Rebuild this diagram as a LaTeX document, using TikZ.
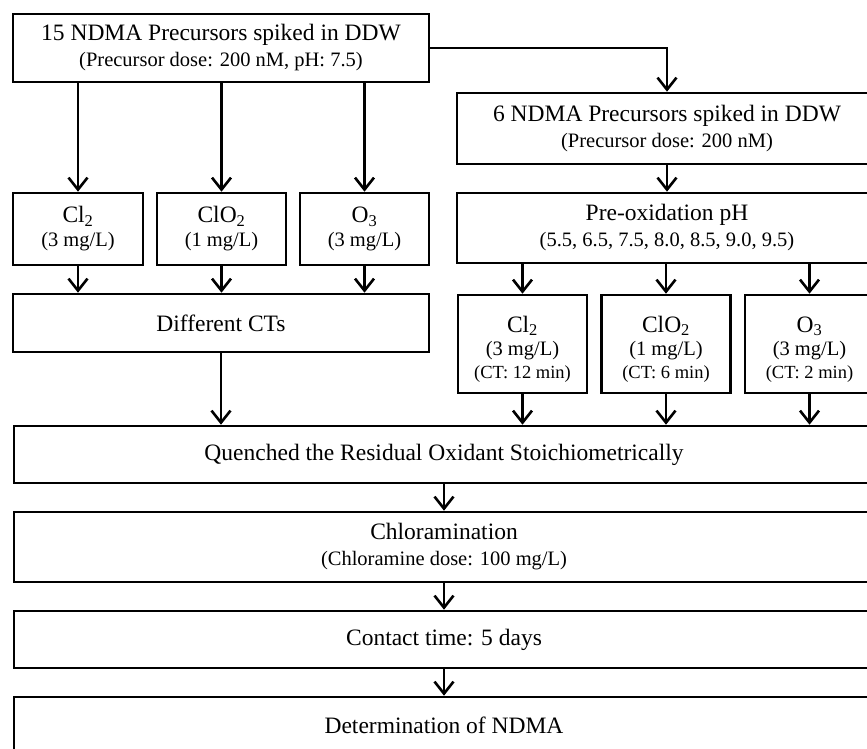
\documentclass[tikz,border=0pt]{standalone}
\usepackage{fontspec}
\setmainfont{Liberation Serif}
\usetikzlibrary{arrows.meta}
\newcommand{\bigtxt}{\fontsize{23.5}{26}\selectfont}
\newcommand{\midtxt}{\fontsize{20.5}{23}\selectfont}
\newcommand{\smalltxt}{\fontsize{18.5}{22}\selectfont}

\begin{document}
\begin{tikzpicture}[->,
				>={Straight Barb[length=12pt,width=19pt]},
				x=1pt, y=-1pt,
				line width=2.6pt,
				box/.style={draw, black, -, inner sep=0pt, align=center, font=\bigtxt}]
				\useasboundingbox (0,0) rectangle (867,748);
				\clip (0,0) rectangle (867,748);
				\node at (221,48) (a) [box, minimum width=416, minimum height=68] {15 NDMA Precursors spiked in DDW\\{\midtxt (Precursor dose: 200 nM, pH: 7.5)}};
				\node at (667,128.5) (b) [box, minimum width=420, minimum height=71] {6 NDMA Precursors spiked in DDW\\{\midtxt (Precursor dose: 200 nM)}};
				\node at (667,228) (c) [box, minimum width=420, minimum height=70] {Pre-oxidation pH\\{\midtxt (5.5, 6.5, 7.5, 8.0, 8.5, 9.0, 9.5)}};
				\node at (78,229) (d) [box, minimum width=130, minimum height=72] {Cl\textsubscript{2}\\[-2pt]{\midtxt (3 mg/L)}};
				\node at (221.5,229) (e) [box, minimum width=129, minimum height=72] {ClO\textsubscript{2}\\[-2pt]{\midtxt (1 mg/L)}};
				\node at (364.5,229) (f) [box, minimum width=129, minimum height=72] {O\textsubscript{3}\\[-2pt]{\midtxt (3 mg/L)}};
				\node at (221,323) (g) [box, minimum width=416, minimum height=58] {Different CTs};
				\node at (522.5,344) (h) [box, minimum width=129, minimum height=98] {\rule{0pt}{26pt}Cl\textsubscript{2}\\[-3pt]{\midtxt (3 mg/L)}\\[-3pt]{\smalltxt (CT: 12 min)}};
				\node at (666,344) (i) [box, minimum width=129, minimum height=98] {\rule{0pt}{26pt}ClO\textsubscript{2}\\[-3pt]{\midtxt (1 mg/L)}\\[-3pt]{\smalltxt (CT: 6 min)}};
				\node at (809.5,344) (j) [box, minimum width=129, minimum height=98] {\rule{0pt}{26pt}O\textsubscript{3}\\[-3pt]{\midtxt (3 mg/L)}\\[-3pt]{\smalltxt (CT: 2 min)}};
				\node at (444,454.5) (k) [box, minimum width=860, minimum height=57] {Quenched the Residual Oxidant Stoichiometrically};
				\node at (444,547) (l) [box, minimum width=860, minimum height=70] {Chloramination\\{\midtxt (Chloramine dose: 100 mg/L)}};
				\node at (444,639.5) (m) [box, minimum width=860, minimum height=57] {Contact time: 5 days};
				\node at (444,725.5) (n) [box, minimum width=860, minimum height=57] {Determination of NDMA};
				\draw[->, black] (a.east) -| (b.north);
				\draw[->, black] (a.south -| d.north) -- (d.north);
				\draw[->, black] (a.south -| e.north) -- (e.north);
				\draw[->, black] (a.south -| f.north) -- (f.north);
				\draw[->, black] (b) -- (c);
				\draw[->, black] (c.south -| h.north) -- (h.north);
				\draw[->, black] (c.south -| i.north) -- (i.north);
				\draw[->, black] (c.south -| j.north) -- (j.north);
				\draw[->, black] (d) -- (d |- g.north);
				\draw[->, black] (e) -- (e |- g.north);
				\draw[->, black] (f) -- (f |- g.north);
				\draw[->, black] (g) -- (g |- k.north);
				\draw[->, black] (h) -- (h |- k.north);
				\draw[->, black] (i) -- (i |- k.north);
				\draw[->, black] (j) -- (j |- k.north);
				\draw[->, black] (k) -- (l);
				\draw[->, black] (l) -- (m);
				\draw[->, black] (m) -- (n);
			\end{tikzpicture}
\end{document}
